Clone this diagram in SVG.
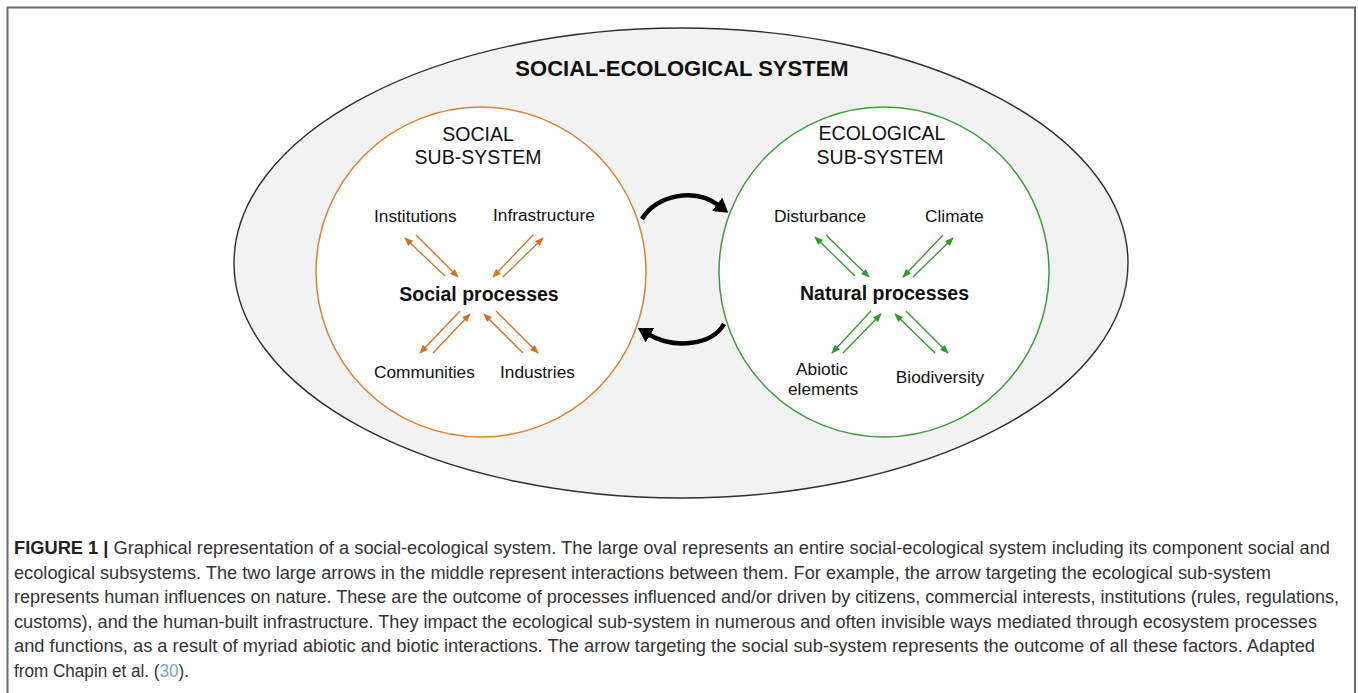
<svg xmlns="http://www.w3.org/2000/svg" width="1358" height="693" viewBox="0 0 1358 693">
  <style>
    .frame { fill: none; stroke: #6b6b6b; stroke-width: 2; }
    .sys { fill: #f2f2f2; stroke: #2e2e2e; stroke-width: 1.4; }
    .soc { fill: #ffffff; stroke: #d9822f; stroke-width: 1.5; }
    .eco { fill: #ffffff; stroke: #3a9f34; stroke-width: 1.5; }
    .t { font-family: "Liberation Sans", Arial, Helvetica, sans-serif; fill: #111; }
    .title { font-size: 22px; font-weight: bold; }
    .sub { font-size: 19.5px; }
    .lbl { font-size: 17.3px; }
    .proc { font-size: 19.5px; font-weight: bold; }
    .cap { font-family: "Liberation Sans", Arial, Helvetica, sans-serif; font-size: 17.5px; fill: #333; }
    .ref { fill: #6fa8dc; }
    .oa { stroke: #d07324; stroke-width: 1.3; fill: none; marker-end: url(#headO); }
    .ga { stroke: #2e9a2a; stroke-width: 1.3; fill: none; marker-end: url(#headG); }
    .big { stroke: #000; stroke-width: 4.5; fill: none; marker-end: url(#headBig); }
  </style>
  <defs>
    <marker id="headO" viewBox="0 0 10 8" refX="9" refY="4" markerWidth="9" markerHeight="7" markerUnits="userSpaceOnUse" orient="auto">
      <path d="M0,0 L10,4 L0,8 z" fill="#d07324"/>
    </marker>
    <marker id="headG" viewBox="0 0 10 8" refX="9" refY="4" markerWidth="9" markerHeight="7" markerUnits="userSpaceOnUse" orient="auto">
      <path d="M0,0 L10,4 L0,8 z" fill="#2e9a2a"/>
    </marker>
    <marker id="headBig" viewBox="0 0 14 17" refX="3" refY="8.5" markerWidth="14" markerHeight="17" markerUnits="userSpaceOnUse" orient="auto">
      <path d="M0,0 L14,8.5 L0,17 z" fill="#000"/>
    </marker>
  </defs>

  <rect width="1358" height="693" fill="#ffffff"/>
  <!-- figure frame, open at the bottom -->
  <path class="frame" d="M7.5,693 V7.5 H1355 V693"/>

  <!-- whole system -->
  <g id="social-ecological-system">
    <ellipse class="sys" cx="681" cy="263" rx="447" ry="235"/>
    <text class="t title" x="682" y="76" text-anchor="middle">SOCIAL-ECOLOGICAL SYSTEM</text>
  </g>

  <!-- social sub-system -->
  <g id="social-subsystem">
    <circle class="soc" cx="481" cy="272" r="165"/>
    <text class="t sub" x="478" y="141" text-anchor="middle">SOCIAL</text>
    <text class="t sub" x="478" y="164" text-anchor="middle">SUB-SYSTEM</text>
  </g>
  <g id="social-processes"><text class="t proc" x="479" y="301" text-anchor="middle">Social processes</text></g>
  <g id="institutions"><text class="t lbl" x="374" y="222">Institutions</text></g>
  <g id="infrastructure"><text class="t lbl" x="493" y="221">Infrastructure</text></g>
  <g id="communities"><text class="t lbl" x="374" y="378">Communities</text></g>
  <g id="industries"><text class="t lbl" x="500" y="378">Industries</text></g>

  <!-- ecological sub-system -->
  <g id="ecological-subsystem">
    <circle class="eco" cx="884" cy="272" r="165"/>
    <text class="t sub" x="882" y="140" text-anchor="middle">ECOLOGICAL</text>
    <text class="t sub" x="880" y="164" text-anchor="middle">SUB-SYSTEM</text>
  </g>
  <g id="natural-processes"><text class="t proc" x="884.5" y="300" text-anchor="middle">Natural processes</text></g>
  <g id="disturbance"><text class="t lbl" x="774" y="222">Disturbance</text></g>
  <g id="climate"><text class="t lbl" x="925" y="222">Climate</text></g>
  <g id="abiotic-elements">
    <text class="t lbl" x="822" y="375" text-anchor="middle">Abiotic</text>
    <text class="t lbl" x="823" y="395" text-anchor="middle">elements</text>
  </g>
  <g id="biodiversity"><text class="t lbl" x="940" y="383" text-anchor="middle">Biodiversity</text></g>

  <!-- connectors -->
  <g id="connectors">
    <!-- social exchanges -->
    <line class="oa" x1="445" y1="276" x2="405" y2="238"/>
    <line class="oa" x1="416" y1="235" x2="458" y2="277"/>
    <line class="oa" x1="533" y1="235" x2="493" y2="277"/>
    <line class="oa" x1="503" y1="277" x2="543" y2="238"/>
    <line class="oa" x1="460" y1="311" x2="420" y2="353"/>
    <line class="oa" x1="433" y1="353" x2="470" y2="314"/>
    <line class="oa" x1="523" y1="353" x2="484" y2="314"/>
    <line class="oa" x1="496" y1="311" x2="538" y2="353"/>
    <!-- ecological exchanges -->
    <line class="ga" x1="855" y1="276" x2="815" y2="237"/>
    <line class="ga" x1="826" y1="235" x2="869" y2="277"/>
    <line class="ga" x1="943" y1="235" x2="903" y2="277"/>
    <line class="ga" x1="913" y1="277" x2="953" y2="238"/>
    <line class="ga" x1="871" y1="311" x2="832" y2="353"/>
    <line class="ga" x1="843" y1="353" x2="881" y2="314"/>
    <line class="ga" x1="935" y1="353" x2="895" y2="314"/>
    <line class="ga" x1="906" y1="311" x2="948" y2="353"/>
    <!-- interactions between the two sub-systems -->
    <path class="big" d="M642,219 C656,195 695,187 719.5,206"/>
    <path class="big" d="M724,324 C712,345 675,350 647.4,333.7"/>
  </g>

  <!-- caption -->
  <g id="caption">
    <text class="cap" x="14" y="554" textLength="1316" lengthAdjust="spacingAndGlyphs"><tspan font-weight="bold" fill="#222">FIGURE 1 |</tspan> Graphical representation of a social-ecological system. The large oval represents an entire social-ecological system including its component social and</text>
    <text class="cap" x="14" y="578.5" textLength="1257" lengthAdjust="spacingAndGlyphs">ecological subsystems. The two large arrows in the middle represent interactions between them. For example, the arrow targeting the ecological sub-system</text>
    <text class="cap" x="14" y="603" textLength="1325" lengthAdjust="spacingAndGlyphs">represents human influences on nature. These are the outcome of processes influenced and/or driven by citizens, commercial interests, institutions (rules, regulations,</text>
    <text class="cap" x="14" y="627.5" textLength="1303" lengthAdjust="spacingAndGlyphs">customs), and the human-built infrastructure. They impact the ecological sub-system in numerous and often invisible ways mediated through ecosystem processes</text>
    <text class="cap" x="14" y="652" textLength="1301" lengthAdjust="spacingAndGlyphs">and functions, as a result of myriad abiotic and biotic interactions. The arrow targeting the social sub-system represents the outcome of all these factors. Adapted</text>
    <text class="cap" x="14" y="676.5" textLength="175" lengthAdjust="spacingAndGlyphs">from Chapin et al. (<tspan class="ref">30</tspan>).</text>
  </g>
</svg>
